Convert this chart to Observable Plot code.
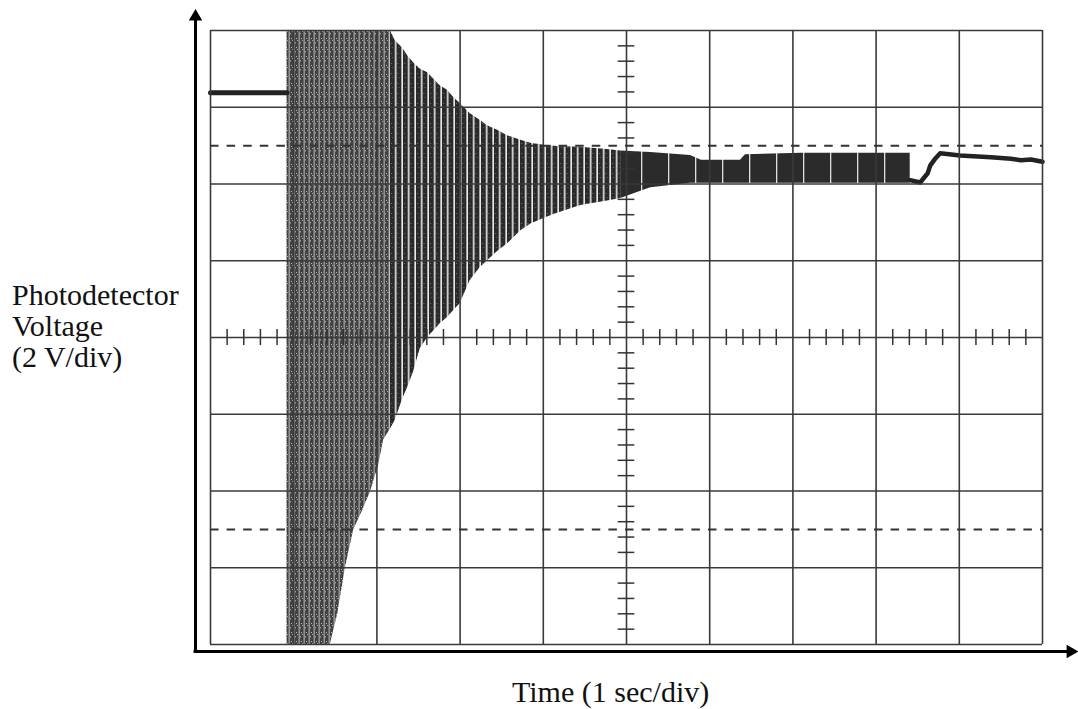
<!DOCTYPE html>
<html>
<head>
<meta charset="utf-8">
<script src="https://cdn.jsdelivr.net/npm/d3@7"></script>
<script src="https://cdn.jsdelivr.net/npm/@observablehq/plot@0.6"></script>
<style>
  html, body { margin: 0; padding: 0; background: #fff; }
  #wrap { position: relative; width: 1078px; height: 709px; overflow: hidden;
          font-family: "Liberation Serif", "Times New Roman", serif; color: #111; }
  #chart { position: absolute; left: 0; top: 0; }
  .lab { position: absolute; font-size: 30px; line-height: 31px; white-space: nowrap; }
</style>
</head>
<body>
<svg width="0" height="0" style="position:absolute;left:0;top:0">
  <defs>
    <pattern id="dense" patternUnits="userSpaceOnUse" width="5" height="9">
      <rect width="5" height="9" fill="#414141"/>
      <rect x="3.6" width="1.1" height="9" fill="#fff" opacity="0.6"/>
      <rect x="1" y="2" width="1" height="1" fill="#bbb"/>
      <rect x="0" y="6" width="1" height="1.5" fill="#999"/>
      <rect x="2" y="4" width="1" height="1" fill="#aaa"/>
    </pattern>
    <pattern id="decay" patternUnits="userSpaceOnUse" width="6.5" height="10">
      <rect width="6.5" height="10" fill="#2a2a2a"/>
      <rect x="4.9" width="1.6" height="10" fill="#fff" opacity="0.9"/>
      <rect x="1" y="3" width="1" height="1" fill="#777"/>
      <rect x="2" y="7" width="1" height="1" fill="#666"/>
    </pattern>
    <pattern id="steady" patternUnits="userSpaceOnUse" width="27" height="10">
      <rect width="27" height="10" fill="#2b2b2b"/>
      <rect x="20" width="1.3" height="10" fill="#fff" opacity="0.85"/>
    </pattern>
  </defs>
</svg>
<div id="wrap">
  <div id="chart"></div>
  <div class="lab" style="left:12px;top:279px">Photodetector<br>Voltage<br>(2 V/div)</div>
  <div class="lab" style="left:512px;top:678px;line-height:28px">Time (1 sec/div)</div>
</div>
<script>
// Grid (divisions): time in sec (1 sec/div), voltage in divisions (2 V/div)
const gridX = [0, 1, 2, 3, 4, 5, 6, 7, 8, 9, 10];
const gridY = [-4, -3, -2, -1, 0, 1, 2, 3, 4];
const dashedY = [2.5, -2.5];

// Trace before the oscillation starts
const preX = [0, 0.92];
const preY = [3.19, 3.19];

// Oscillation envelope (upper / lower) sampled at common times
const envX     = [0.92, 1.44, 1.53, 1.62, 1.72, 1.83, 1.92, 2.02, 2.08, 2.16, 2.22, 2.31, 2.37, 2.44, 2.52, 2.61, 2.68, 2.76, 2.85, 2.92, 3.00, 3.12, 3.24, 3.33, 3.45, 3.57, 3.73, 3.85, 4.05, 4.17, 4.45, 4.77, 4.93, 5.29, 5.77, 5.90, 6.37, 6.43, 7.10, 7.70, 8.41];
const envUpper = [4.00, 4.00, 4.00, 4.00, 4.00, 4.00, 4.00, 4.00, 4.00, 4.00, 3.87, 3.77, 3.67, 3.58, 3.50, 3.45, 3.37, 3.28, 3.22, 3.13, 3.05, 2.92, 2.83, 2.76, 2.70, 2.63, 2.57, 2.53, 2.50, 2.49, 2.48, 2.45, 2.43, 2.41, 2.37, 2.31, 2.31, 2.38, 2.40, 2.40, 2.40];
const envLower = [-4.00, -4.00, -3.60, -3.01, -2.51, -2.25, -2.02, -1.67, -1.34, -1.20, -1.08, -0.80, -0.65, -0.45, -0.15, 0.00, 0.08, 0.18, 0.26, 0.35, 0.44, 0.74, 0.91, 1.00, 1.12, 1.22, 1.39, 1.48, 1.57, 1.62, 1.72, 1.78, 1.81, 1.95, 2.01, 2.01, 2.01, 2.01, 2.01, 2.01, 2.01];

// Trace after the oscillation stops
const postX = [8.41, 8.53, 8.62, 8.65, 8.71, 8.77, 9.01, 9.38, 9.62, 9.74, 9.86, 10.0];
const postY = [2.05, 2.02, 2.14, 2.24, 2.33, 2.40, 2.37, 2.35, 2.33, 2.31, 2.32, 2.29];

// Axis arrows (outside the graticule)
const axisX0 = -0.18, axisY0 = -4.091, axisTopY = 4.18, axisRightX = 10.337;

const env = envX.map((x, i) => ({x, hi: envUpper[i], lo: envLower[i]}));
const pre = preX.map((x, i) => ({x, y: preY[i]}));
const post = postX.map((x, i) => ({x, y: postY[i]}));
const minorX = d3.range(1, 50).filter(i => i % 5).map(i => i / 5);
const minorY = d3.range(-19, 20).filter(i => i % 5).map(i => i / 5);

const gridColor = "#3a3a3a";

const plot = Plot.plot({
  width: 1078,
  height: 660,
  marginLeft: 210,
  marginRight: 36,
  marginTop: 30,
  marginBottom: 16,
  x: {domain: [0, 10], axis: null},
  y: {domain: [-4, 4], axis: null},
  style: {background: "transparent", overflow: "visible"},
  marks: [
    Plot.areaY(env.filter(d => d.x <= 2.16), {x: "x", y1: "lo", y2: "hi", fill: "url(#dense)"}),
    Plot.areaY(env.filter(d => d.x >= 2.16 && d.x <= 4.93), {x: "x", y1: "lo", y2: "hi", fill: "url(#decay)"}),
    Plot.areaY(env.filter(d => d.x >= 4.93), {x: "x", y1: "lo", y2: "hi", fill: "url(#steady)"}),
    Plot.line(pre, {x: "x", y: "y", stroke: "#222", strokeWidth: 5}),
    Plot.line(post, {x: "x", y: "y", stroke: "#222", strokeWidth: 4.5, strokeLinejoin: "round"}),
    Plot.ruleX(gridX, {y1: -4, y2: 4, stroke: gridColor, strokeWidth: 1.6}),
    Plot.ruleY(gridY, {x1: 0, x2: 10, stroke: gridColor, strokeWidth: 1.6}),
    Plot.ruleY(dashedY, {x1: 0, x2: 10, stroke: "#333", strokeWidth: 2, strokeDasharray: "8.5,8.1"}),
    Plot.ruleX(minorX, {y1: -0.105, y2: 0.105, stroke: "#333", strokeWidth: 1.5}),
    Plot.ruleY(minorY, {x1: 4.9, x2: 5.1, stroke: "#333", strokeWidth: 1.5}),
    Plot.ruleX([axisX0], {y1: axisY0, y2: axisTopY, stroke: "#000", strokeWidth: 3}),
    Plot.ruleY([axisY0], {x1: axisX0 - 0.018, x2: axisRightX, stroke: "#000", strokeWidth: 3}),
    Plot.dot([{x: axisX0, y: axisTopY, a: 0}, {x: axisRightX, y: axisY0, a: 90}],
      {x: "x", y: "y", symbol: "triangle", r: 5, fill: "#000", stroke: "none", rotate: "a"})
  ]
});
document.getElementById("chart").appendChild(plot);
</script>
</body>
</html>
